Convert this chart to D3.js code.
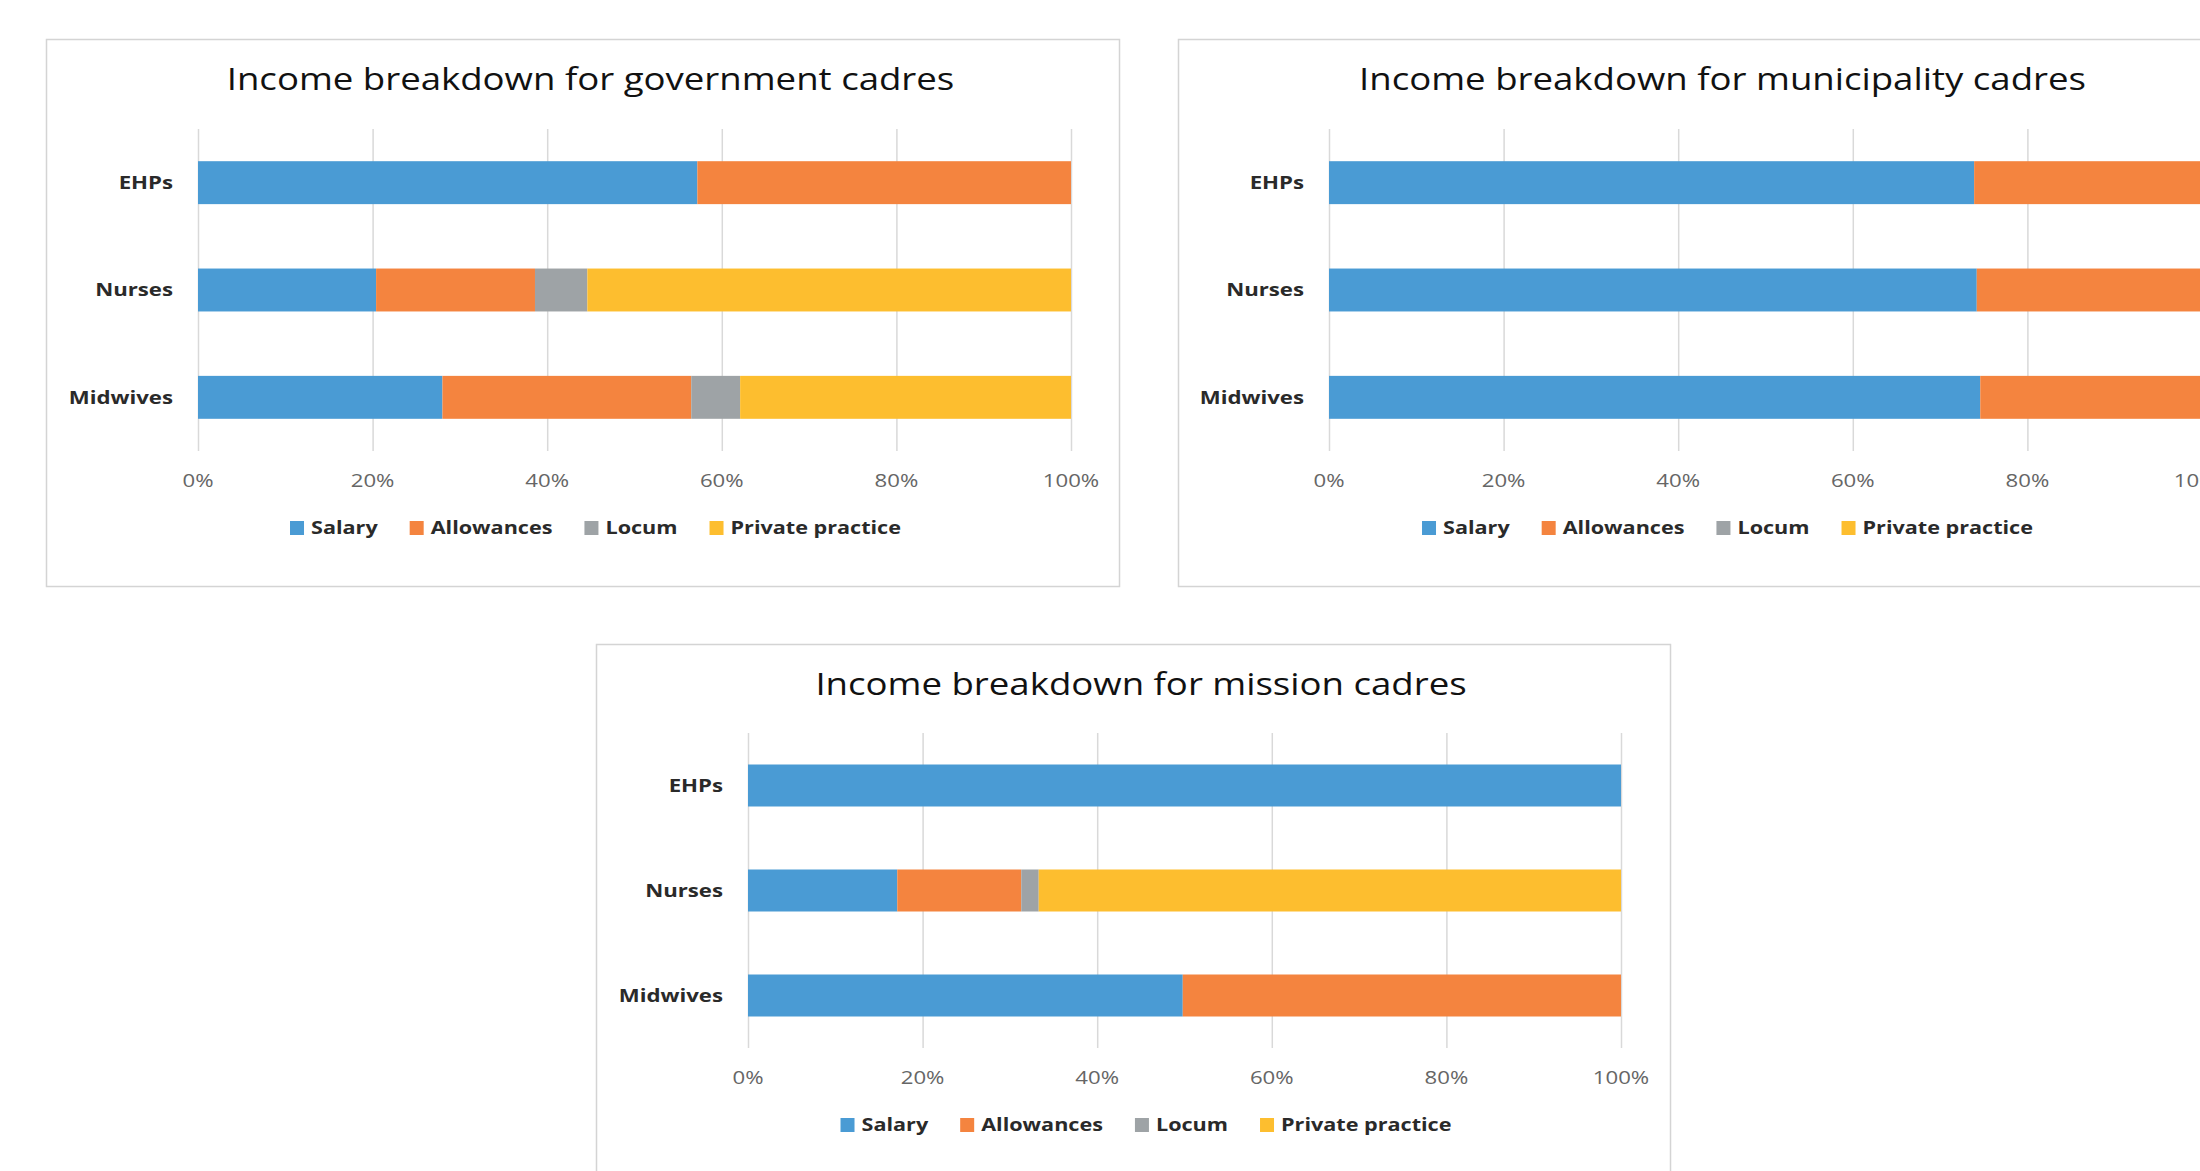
<!DOCTYPE html>
<html>
<head>
<meta charset="utf-8">
<script src="https://cdn.jsdelivr.net/npm/d3@7"></script>
<style>
  body { margin: 0; background: #fff; }
  svg { display: block; }
  text { font-family: "Open Sans", sans-serif; }
</style>
</head>
<body>
<svg id="chart" width="2200" height="1171"></svg>
<script>

var categories = ["EHPs", "Nurses", "Midwives"];
var seriesNames = ["Salary", "Allowances", "Locum", "Private practice"];
var tickValues = [0, 20, 40, 60, 80, 100];
var tickLabels = ["0%", "20%", "40%", "60%", "80%", "100%"];

// government cadres, share of income in %
var govSalary = [57.2, 20.4, 28.0];
var govAllowances = [42.8, 18.2, 28.5];
var govLocum = [0, 6.0, 5.6];
var govPrivate = [0, 55.4, 37.9];

// municipality cadres
var munSalary = [73.9, 74.2, 74.6];
var munAllowances = [26.1, 25.8, 25.4];
var munLocum = [0, 0, 0];
var munPrivate = [0, 0, 0];

// mission cadres
var misSalary = [100, 17.1, 49.8];
var misAllowances = [0, 14.2, 50.2];
var misLocum = [0, 2.0, 0];
var misPrivate = [0, 66.7, 0];

var colors = ["#4a9bd4", "#f4843f", "#9ea3a6", "#fdbe2f"];

// the source picture is stretched sideways, so text gets the same stretch
var SX = 1.2;

var svg = d3.select("#chart");

function place(sel, x, y) {
  return sel.attr("transform", `translate(${x},${y}) scale(${SX},1)`);
}

function drawChart(opts) {
  var rows = categories.map((c, i) => {
    var r = {cat: c};
    seriesNames.forEach((s, j) => { r[s] = opts.values[j][i]; });
    return r;
  });
  var stacked = d3.stack().keys(seriesNames)(rows);

  var f = opts.frame, p = opts.plot;
  var g = svg.append("g");

  g.append("rect")
    .attr("x", f.x + 0.5).attr("y", f.y + 0.5)
    .attr("width", f.w).attr("height", f.h)
    .attr("fill", "#fff")
    .attr("stroke", "#d4d4d4")
    .attr("stroke-width", 1.5);

  var x = d3.scaleLinear().domain([0, 100]).range([p.x0, p.x1]);
  var y = d3.scaleBand().domain(categories).range([p.y0, p.y1])
    .paddingInner(0.6).paddingOuter(0.3);

  // gridlines
  g.append("g")
      .attr("transform", `translate(0,${p.y1})`)
      .call(d3.axisBottom(x).tickValues(tickValues).tickSize(-(p.y1 - p.y0)).tickFormat(""))
      .call(a => a.select(".domain").remove())
    .selectAll("line")
      .attr("stroke", "#d9d9d9")
      .attr("stroke-width", 1.5);

  // stacked bars
  g.append("g")
    .selectAll("g")
    .data(stacked)
    .join("g")
      .attr("fill", (d, i) => colors[i])
    .selectAll("rect")
    .data(d => d.filter(v => v[1] > v[0]))
    .join("rect")
      .attr("x", d => x(d[0]))
      .attr("width", d => x(d[1]) - x(d[0]))
      .attr("y", d => y(d.data.cat))
      .attr("height", y.bandwidth());

  // x tick labels
  g.append("g")
    .selectAll("text")
    .data(tickValues)
    .join("text")
      .each(function(d) { place(d3.select(this), x(d), p.y1 + 30); })
      .attr("text-anchor", "middle")
      .attr("dy", "0.35em")
      .attr("fill", "#666")
      .style("font-size", "18.5px")
      .text((d, i) => tickLabels[i]);

  // category labels
  g.append("g")
    .selectAll("text")
    .data(categories)
    .join("text")
      .each(function(d) { place(d3.select(this), p.x0 - 25, y(d) + y.bandwidth() / 2); })
      .attr("text-anchor", "end")
      .attr("dy", "0.35em")
      .attr("fill", "#2a2a2a")
      .style("font-size", "18.5px")
      .style("font-weight", "bold")
      .text(d => d);

  var cx = f.x + f.w / 2;

  place(g.append("text"), cx + 8, f.y + 40)
    .attr("text-anchor", "middle")
    .attr("dy", "0.35em")
    .attr("fill", "#111")
    .style("font-size", "30.5px")
    .style("font-weight", 500)
    .text(opts.title);

  // legend, centred under the chart
  var leg = g.append("g");
  var xpos = 0;
  seriesNames.forEach((s, i) => {
    var item = leg.append("g").attr("transform", `translate(${xpos},0)`);
    item.append("rect")
      .attr("x", 0).attr("y", -7)
      .attr("width", 14).attr("height", 14)
      .attr("fill", colors[i]);
    var t = place(item.append("text"), 21, 0)
      .attr("dy", "0.35em")
      .attr("fill", "#2a2a2a")
      .style("font-size", "18px")
      .style("font-weight", "bold")
      .text(s);
    var w = t.node().getComputedTextLength() * SX;
    xpos += 21 + w + (i < seriesNames.length - 1 ? 32 : 0);
  });
  leg.attr("transform", `translate(${cx + 13 - xpos / 2},${p.y1 + 77})`);
}

drawChart({
  title: "Income breakdown for government cadres",
  values: [govSalary, govAllowances, govLocum, govPrivate],
  frame: {x: 46, y: 39, w: 1073, h: 547},
  plot: {x0: 198, x1: 1071, y0: 129, y1: 451}
});

drawChart({
  title: "Income breakdown for municipality cadres",
  values: [munSalary, munAllowances, munLocum, munPrivate],
  frame: {x: 1178, y: 39, w: 1073, h: 547},
  plot: {x0: 1329, x1: 2202, y0: 129, y1: 451}
});

drawChart({
  title: "Income breakdown for mission cadres",
  values: [misSalary, misAllowances, misLocum, misPrivate],
  frame: {x: 596, y: 644, w: 1074, h: 600},
  plot: {x0: 748, x1: 1621, y0: 733, y1: 1048}
});

</script>
</body>
</html>
